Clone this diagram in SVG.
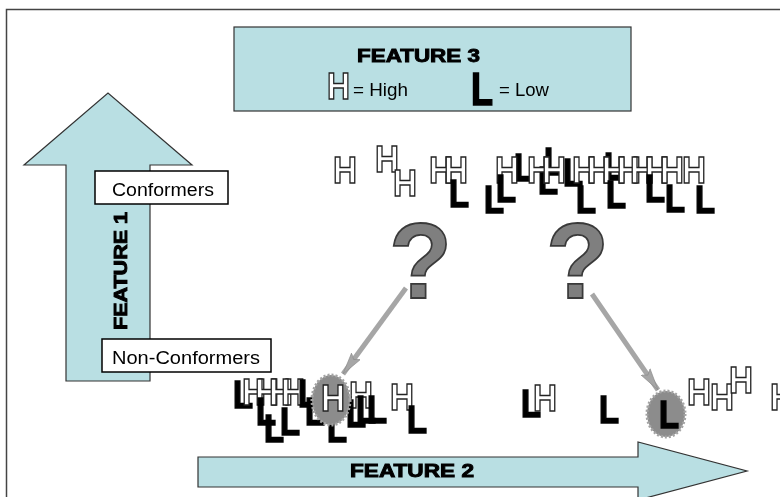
<svg xmlns="http://www.w3.org/2000/svg" width="780" height="497" viewBox="0 0 780 497">
  <defs>
    <style>
      .band { fill: #b9dfe3; stroke: #333; stroke-width: 1.2; }
      .label-box { fill: #fff; stroke: #000; stroke-width: 1.5; }
      .heavy { font-family: "Liberation Sans", Arial, sans-serif; font-weight: bold; font-size: 18px; fill: #000; stroke: #000; stroke-width: 0.9; }
      .plain { font-family: "Liberation Sans", Arial, sans-serif; font-size: 18px; fill: #000; }
      .h { font-family: "Liberation Sans", Arial, sans-serif; font-weight: bold; font-size: 36px; fill: #fff; stroke: #222; stroke-width: 1.4; }
      .l { font-family: "Liberation Sans", Arial, sans-serif; font-weight: bold; font-size: 38px; fill: #000; stroke: #000; stroke-width: 1.6; }
      .q { font-family: "Liberation Sans", Arial, sans-serif; font-weight: bold; font-size: 107px; fill: #7f7f7f; stroke: #3a3a3a; stroke-width: 1.8; }
      .halo { fill: #8c8c8c; stroke: #a3a3a3; stroke-width: 3; stroke-dasharray: 2 2; }
      .pointer { stroke: #a6a6a6; stroke-width: 5; fill: none; }
    </style>
    <!-- pass-through filter: renders the group offscreen with grayscale antialiasing -->
    <filter id="flat" filterUnits="userSpaceOnUse" x="0" y="0" width="780" height="497">
      <feOffset dx="0" dy="0"/>
    </filter>
    <marker id="spear" markerUnits="userSpaceOnUse" markerWidth="24" markerHeight="14" refX="22" refY="7" orient="auto">
      <path d="M0,1.5 L22,7 L0,12.5 L4,7 Z" fill="#a6a6a6" stroke="#8a8a8a" stroke-width="0.6"/>
    </marker>
  </defs>

  <rect width="780" height="497" fill="#fff"/>

  <g filter="url(#flat)">

  <!-- slide frame -->
  <path d="M6.5,497 V9.5 H780" fill="none" stroke="#444" stroke-width="1.5"/>

  <!-- Feature 1 axis (vertical arrow) -->
  <g id="feature1">
    <polygon class="band" points="66,381 66,165 24,165 108,93 192,165 150,165 150,381"/>
    <text class="heavy" transform="translate(127,271) rotate(-90)" text-anchor="middle" textLength="118" lengthAdjust="spacingAndGlyphs">FEATURE 1</text>
  </g>

  <!-- Feature 2 axis (horizontal arrow) -->
  <g id="feature2">
    <polygon class="band" points="198,457 638,457 638,442 747,471 638,500 638,487 198,487"/>
    <text class="heavy" x="412" y="477" text-anchor="middle" textLength="124" lengthAdjust="spacingAndGlyphs">FEATURE 2</text>
  </g>

  <!-- Feature 3 legend -->
  <g id="feature3-legend">
    <rect class="band" x="234" y="27" width="397" height="84"/>
    <text class="heavy" x="418.5" y="62" text-anchor="middle" textLength="123" lengthAdjust="spacingAndGlyphs">FEATURE 3</text>
    <text class="h" x="327" y="99" textLength="23" lengthAdjust="spacingAndGlyphs">H</text>
    <text class="plain" x="353" y="96" textLength="55" lengthAdjust="spacingAndGlyphs">= High</text>
    <text class="l" x="471" y="105" style="font-size:47px" textLength="22" lengthAdjust="spacingAndGlyphs">L</text>
    <text class="plain" x="499" y="96" textLength="50" lengthAdjust="spacingAndGlyphs">= Low</text>
  </g>

  <!-- group labels -->
  <g id="conformers">
    <rect class="label-box" x="95" y="171" width="133" height="33"/>
    <text class="plain" x="163" y="196" text-anchor="middle" textLength="102" lengthAdjust="spacingAndGlyphs">Conformers</text>
  </g>
  <g id="non-conformers">
    <rect class="label-box" x="102" y="339" width="169" height="33"/>
    <text class="plain" x="186" y="364" text-anchor="middle" textLength="148" lengthAdjust="spacingAndGlyphs">Non-Conformers</text>
  </g>

  <!-- upper scatter: conformers -->
  <g id="conformer-cloud">
    <text class="h" x="333" y="183" textLength="24" lengthAdjust="spacingAndGlyphs">H</text>
    <text class="h" x="375" y="172" textLength="24" lengthAdjust="spacingAndGlyphs">H</text>
    <text class="h" x="393" y="196" textLength="24" lengthAdjust="spacingAndGlyphs">H</text>
    <text class="h" x="429" y="183" textLength="24" lengthAdjust="spacingAndGlyphs">H</text>
    <text class="h" x="444" y="183" textLength="24" lengthAdjust="spacingAndGlyphs">H</text>
    <text class="l" x="449" y="207" textLength="20" lengthAdjust="spacingAndGlyphs">L</text>
    <text class="l" x="484" y="213" textLength="20" lengthAdjust="spacingAndGlyphs">L</text>
    <!-- L marks partly hidden behind the H row -->
    <text class="l" x="514" y="181" textLength="20" lengthAdjust="spacingAndGlyphs">L</text>
    <text class="l" x="544" y="175" textLength="20" lengthAdjust="spacingAndGlyphs">L</text>
    <text class="l" x="563" y="186" textLength="20" lengthAdjust="spacingAndGlyphs">L</text>
    <text class="l" x="604" y="180" textLength="20" lengthAdjust="spacingAndGlyphs">L</text>
    <text class="l" x="538" y="194" textLength="20" lengthAdjust="spacingAndGlyphs">L</text>
    <text class="h" x="495" y="183" textLength="24" lengthAdjust="spacingAndGlyphs">H</text>
    <text class="h" x="527" y="183" textLength="24" lengthAdjust="spacingAndGlyphs">H</text>
    <text class="h" x="542" y="183" textLength="24" lengthAdjust="spacingAndGlyphs">H</text>
    <text class="h" x="572" y="183" textLength="24" lengthAdjust="spacingAndGlyphs">H</text>
    <text class="h" x="587" y="183" textLength="24" lengthAdjust="spacingAndGlyphs">H</text>
    <text class="h" x="602" y="183" textLength="24" lengthAdjust="spacingAndGlyphs">H</text>
    <text class="h" x="617" y="183" textLength="24" lengthAdjust="spacingAndGlyphs">H</text>
    <text class="h" x="630" y="183" textLength="24" lengthAdjust="spacingAndGlyphs">H</text>
    <text class="h" x="645" y="183" textLength="24" lengthAdjust="spacingAndGlyphs">H</text>
    <text class="h" x="660" y="183" textLength="24" lengthAdjust="spacingAndGlyphs">H</text>
    <text class="h" x="682" y="183" textLength="24" lengthAdjust="spacingAndGlyphs">H</text>
    <text class="l" x="496" y="202" textLength="20" lengthAdjust="spacingAndGlyphs">L</text>
    <text class="l" x="576" y="213" textLength="20" lengthAdjust="spacingAndGlyphs">L</text>
    <text class="l" x="606" y="208" textLength="20" lengthAdjust="spacingAndGlyphs">L</text>
    <text class="l" x="645" y="202" textLength="20" lengthAdjust="spacingAndGlyphs">L</text>
    <text class="l" x="665" y="212" textLength="20" lengthAdjust="spacingAndGlyphs">L</text>
    <text class="l" x="695" y="213" textLength="20" lengthAdjust="spacingAndGlyphs">L</text>
  </g>

  <!-- lower scatter, left group -->
  <g id="non-conformer-cloud-left">
    <text class="l" x="233" y="408" textLength="20" lengthAdjust="spacingAndGlyphs">L</text>
    <text class="h" x="242" y="405" textLength="24" lengthAdjust="spacingAndGlyphs">H</text>
    <text class="h" x="255" y="405" textLength="24" lengthAdjust="spacingAndGlyphs">H</text>
    <text class="h" x="269" y="405" textLength="24" lengthAdjust="spacingAndGlyphs">H</text>
    <text class="h" x="281" y="405" textLength="24" lengthAdjust="spacingAndGlyphs">H</text>
    <text class="l" x="298" y="407" textLength="20" lengthAdjust="spacingAndGlyphs">L</text>
    <text class="h" x="349" y="408" textLength="24" lengthAdjust="spacingAndGlyphs">H</text>
    <text class="h" x="390" y="410" textLength="24" lengthAdjust="spacingAndGlyphs">H</text>
    <text class="l" x="256" y="425" textLength="20" lengthAdjust="spacingAndGlyphs">L</text>
    <text class="l" x="264" y="442" textLength="20" lengthAdjust="spacingAndGlyphs">L</text>
    <text class="l" x="280" y="435" textLength="20" lengthAdjust="spacingAndGlyphs">L</text>
    <text class="l" x="305" y="425" textLength="20" lengthAdjust="spacingAndGlyphs">L</text>
    <text class="l" x="327" y="442" textLength="20" lengthAdjust="spacingAndGlyphs">L</text>
    <text class="l" x="346" y="427" textLength="20" lengthAdjust="spacingAndGlyphs">L</text>
    <text class="l" x="356" y="423" textLength="20" lengthAdjust="spacingAndGlyphs">L</text>
    <text class="l" x="367" y="423" textLength="20" lengthAdjust="spacingAndGlyphs">L</text>
    <text class="l" x="407" y="433" textLength="20" lengthAdjust="spacingAndGlyphs">L</text>
  </g>

  <!-- highlighted sample, left -->
  <g id="sample-high">
    <ellipse class="halo" cx="331" cy="400" rx="19" ry="25"/>
    <text class="h" x="321" y="411" textLength="24" lengthAdjust="spacingAndGlyphs">H</text>
  </g>

  <!-- lower scatter, right group -->
  <g id="non-conformer-cloud-right">
    <text class="l" x="521" y="417" textLength="20" lengthAdjust="spacingAndGlyphs">L</text>
    <text class="h" x="533" y="411" textLength="24" lengthAdjust="spacingAndGlyphs">H</text>
    <text class="l" x="599" y="423" textLength="20" lengthAdjust="spacingAndGlyphs">L</text>
    <text class="h" x="687" y="405" textLength="24" lengthAdjust="spacingAndGlyphs">H</text>
    <text class="h" x="710" y="410" textLength="24" lengthAdjust="spacingAndGlyphs">H</text>
    <text class="h" x="729" y="393" textLength="24" lengthAdjust="spacingAndGlyphs">H</text>
    <text class="h" x="770" y="410" textLength="24" lengthAdjust="spacingAndGlyphs">H</text>
  </g>

  <!-- highlighted sample, right -->
  <g id="sample-low">
    <ellipse class="halo" cx="666" cy="414" rx="19" ry="23"/>
    <text class="l" x="659" y="428" textLength="20" lengthAdjust="spacingAndGlyphs">L</text>
  </g>

  <!-- unknown-class markers -->
  <g id="query-left">
    <text class="q" x="389" y="298" textLength="63" lengthAdjust="spacingAndGlyphs">?</text>
  </g>
  <g id="query-right">
    <text class="q" x="546" y="298" textLength="63" lengthAdjust="spacingAndGlyphs">?</text>
  </g>

  <!-- connectors -->
  <g id="connectors">
    <line class="pointer" x1="406" y1="288" x2="343" y2="374" marker-end="url(#spear)"/>
    <line class="pointer" x1="592" y1="294" x2="658" y2="390" marker-end="url(#spear)"/>
  </g>

  </g>
</svg>
